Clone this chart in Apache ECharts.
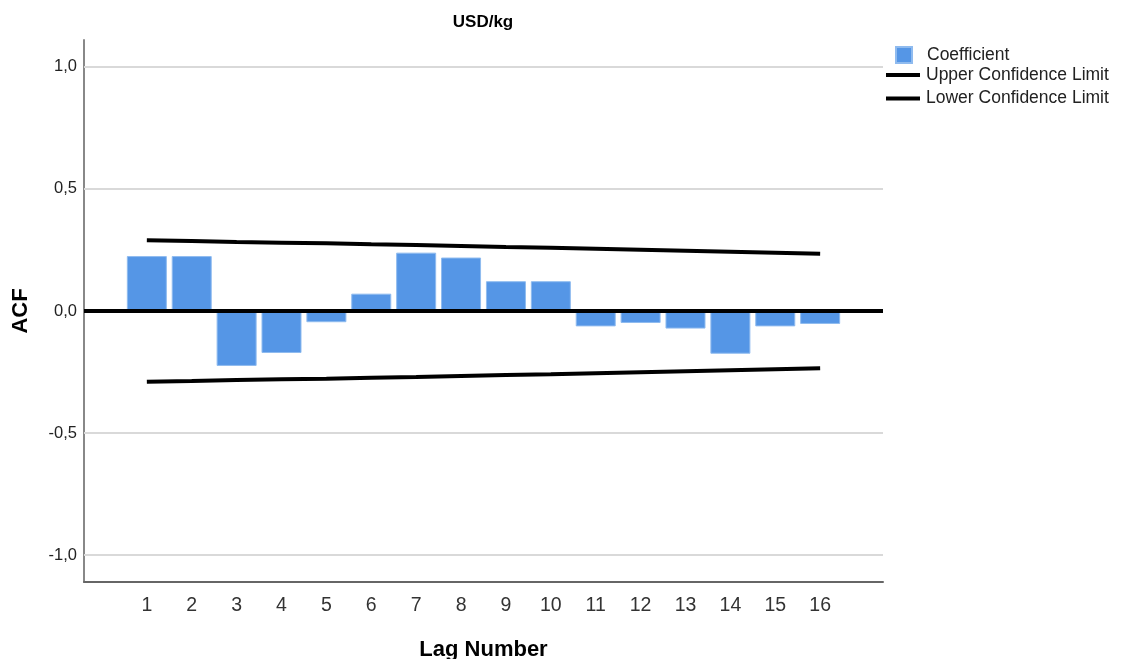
<!DOCTYPE html>
<html>
<head>
<meta charset="utf-8">
<title>USD/kg ACF</title>
<script src="https://cdn.jsdelivr.net/npm/echarts@6/dist/echarts.min.js"></script>
<style>
  html, body { margin: 0; padding: 0; background: #fff; }
  #chart { width: 1121px; height: 659px; }
</style>
</head>
<body>
<div id="chart"></div>
<script>
// Autocorrelation of USD/kg by lag
const lags = [1, 2, 3, 4, 5, 6, 7, 8, 9, 10, 11, 12, 13, 14, 15, 16];
const coefficient = [0.225, 0.225, -0.225, -0.172, -0.046, 0.071, 0.239, 0.219,
                     0.122, 0.122, -0.063, -0.049, -0.072, -0.175, -0.063, -0.053];
const upperLimit = [0.290, 0.287, 0.283, 0.280, 0.277, 0.273, 0.270, 0.266,
                    0.262, 0.259, 0.255, 0.251, 0.247, 0.243, 0.239, 0.235];
const lowerLimit = [-0.290, -0.287, -0.283, -0.280, -0.277, -0.273, -0.270, -0.266,
                    -0.262, -0.259, -0.255, -0.251, -0.247, -0.243, -0.239, -0.235];
const yTicks = [-1.0, -0.5, 0.0, 0.5, 1.0];
const gridValues = [-1.0, -0.5, 0.5, 1.0];

const FONT = 'Liberation Sans, Arial, sans-serif';
const pairs = (ys) => lags.map((x, i) => [x, ys[i]]);

const chart = echarts.init(document.getElementById('chart'), null, { renderer: 'canvas' });
chart.setOption({
  animation: false,
  backgroundColor: '#ffffff',
  title: {
    text: 'USD/kg',
    left: 483,
    top: 14,
    padding: 0,
    textAlign: 'center',
    textStyle: { fontFamily: FONT, fontSize: 17, fontWeight: 'bold', color: '#000' }
  },
  legend: [
    {
      data: ['Coefficient'],
      orient: 'vertical',
      left: 895,
      top: 46,
      padding: 0,
      itemWidth: 16,
      itemHeight: 16,
      icon: 'rect',
      textStyle: { fontFamily: FONT, fontSize: 17.5, color: '#222', padding: [0, 0, 0, 10] }
    },
    {
      data: ['Upper Confidence Limit', 'Lower Confidence Limit'],
      orient: 'vertical',
      left: 886,
      top: 66,
      padding: 0,
      itemWidth: 34,
      itemHeight: 4,
      itemGap: 5.5,
      icon: 'rect',
      textStyle: { fontFamily: FONT, fontSize: 17.5, color: '#222', padding: [0, 0, 0, 1] }
    }
  ],
  grid: { left: 84, right: 238, top: 40, bottom: 77, containLabel: false, outerBoundsMode: 'none' },
  xAxis: {
    type: 'value',
    min: -0.4,
    max: 17.4,
    name: 'Lag Number',
    nameLocation: 'middle',
    nameGap: 57,
    nameTextStyle: { fontFamily: FONT, fontSize: 22, fontWeight: 'bold', color: '#000' },
    axisLine: { show: true, onZero: false, lineStyle: { color: '#666', width: 2 } },
    axisTick: { show: false },
    splitLine: { show: false },
    axisLabel: {
      customValues: lags,
      margin: 14,
      fontFamily: FONT,
      fontSize: 19.5,
      color: '#333',
      formatter: (v) => String(v)
    }
  },
  yAxis: {
    type: 'value',
    min: -1.11,
    max: 1.11,
    name: 'ACF',
    nameLocation: 'middle',
    nameGap: 52,
    nameRotate: 90,
    nameTextStyle: { fontFamily: FONT, fontSize: 22, fontWeight: 'bold', color: '#000' },
    axisLine: { show: true, onZero: false, lineStyle: { color: '#888', width: 2 } },
    axisTick: { show: false },
    splitLine: { show: false },
    axisLabel: {
      customValues: yTicks,
      margin: 7,
      fontFamily: FONT,
      fontSize: 16.5,
      color: '#222',
      formatter: (v) => v.toFixed(1).replace('.', ',')
    }
  },
  series: [
    {
      // light horizontal reference lines
      name: 'grid',
      type: 'line',
      data: [],
      silent: true,
      markLine: {
        z: 1,
        silent: true,
        symbol: 'none',
        label: { show: false },
        lineStyle: { color: '#d9d9d9', width: 2, type: 'solid' },
        data: gridValues.map((v) => ({ yAxis: v }))
      }
    },
    {
      name: 'Coefficient',
      type: 'bar',
      z: 2,
      barWidth: 40,
      itemStyle: { color: '#5596e6', borderColor: '#8fbbef', borderWidth: 1 },
      data: pairs(coefficient)
    },
    {
      name: 'Upper Confidence Limit',
      type: 'line',
      z: 3,
      symbol: 'none',
      color: '#000',
      lineStyle: { color: '#000', width: 4 },
      data: pairs(upperLimit)
    },
    {
      name: 'Lower Confidence Limit',
      type: 'line',
      z: 3,
      symbol: 'none',
      color: '#000',
      lineStyle: { color: '#000', width: 4 },
      data: pairs(lowerLimit)
    },
    {
      // zero reference line drawn over the bars
      name: 'zero',
      type: 'line',
      data: [],
      silent: true,
      markLine: {
        z: 6,
        silent: true,
        symbol: 'none',
        label: { show: false },
        lineStyle: { color: '#000', width: 4, type: 'solid' },
        data: [{ yAxis: 0 }]
      }
    }
  ]
});
</script>
</body>
</html>
